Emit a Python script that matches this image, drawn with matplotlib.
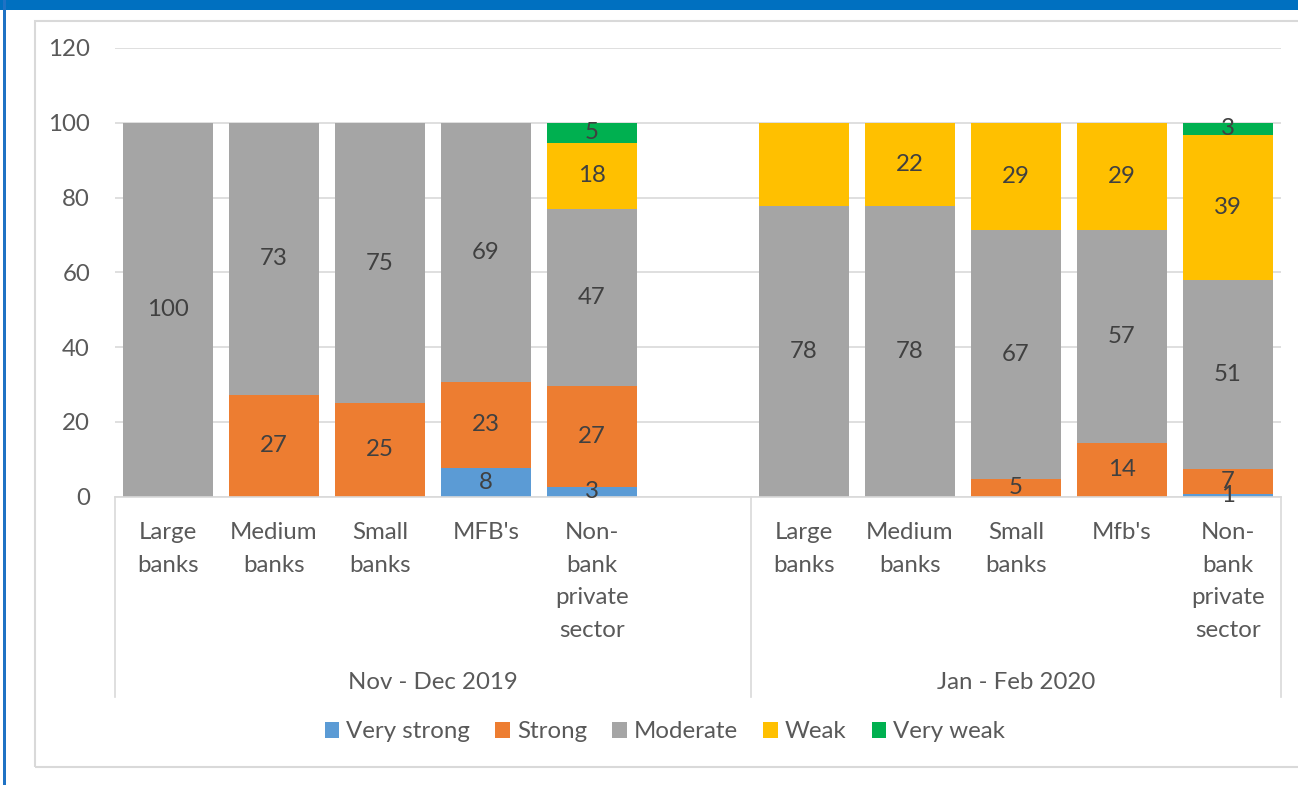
import numpy as np
import matplotlib.pyplot as plt
from matplotlib.patches import Rectangle, Patch
from matplotlib.lines import Line2D

plt.rcParams["font.family"] = ["Lato", "DejaVu Sans"]

# Categorias (slot vazio separa os dois periodos)
categorias = ["Large\nbanks", "Medium\nbanks", "Small\nbanks", "MFB's", "Non-\nbank\nprivate\nsector", "",
              "Large\nbanks", "Medium\nbanks", "Small\nbanks", "Mfb's", "Non-\nbank\nprivate\nsector"]
periodos = ["Nov - Dec 2019", "Jan - Feb 2020"]

very_strong = [0, 0, 0, 7.7, 2.6, 0, 0, 0, 0, 0, 0.7]
strong = [0, 27.3, 25.0, 23.1, 26.9, 0, 0, 0, 4.8, 14.3, 6.6]
moderate = [100, 72.7, 75.0, 69.2, 47.4, 0, 77.8, 77.8, 66.6, 57.1, 50.7]
weak = [0, 0, 0, 0, 17.8, 0, 22.2, 22.2, 28.6, 28.6, 38.7]
very_weak = [0, 0, 0, 0, 5.3, 0, 0, 0, 0, 0, 3.3]

series = ["Very strong", "Strong", "Moderate", "Weak", "Very weak"]
cores = ["#5B9BD5", "#ED7D31", "#A5A5A5", "#FFC000", "#00B050"]
valores = [very_strong, strong, moderate, weak, very_weak]

# rotulo que nao aparece no original (Weak - Large banks Jan-Feb)
sem_rotulo = [("Weak", 6)]

texto = "#595959"
fs = 17.3

fig = plt.figure(figsize=(12.98, 7.85), dpi=100)
W, H = 1298, 785

# moldura azul e borda da area do grafico
fig.patches.append(Rectangle((0, 1 - 10 / H), 1, 10 / H, transform=fig.transFigure,
                             facecolor="#0070C0", edgecolor="none"))
fig.patches.append(Rectangle((3 / W, 0), 3 / W, 1, transform=fig.transFigure,
                             facecolor="#1F72C4", edgecolor="none"))
fig.patches.append(Rectangle((35 / W, 1 - 767 / H), 1.2, (767 - 21) / H, transform=fig.transFigure,
                             facecolor="none", edgecolor="#D9D9D9", linewidth=1.5))

ax = fig.add_axes([115 / W, 1 - 496.7 / H, (1281 - 115) / W, (496.7 - 48) / H])

x = np.arange(len(categorias))
base = np.zeros(len(categorias))
for nome, cor, vals in zip(series, cores, valores):
    vals = np.array(vals, dtype=float)
    ax.bar(x, vals, bottom=base, width=0.84, color=cor, edgecolor="none", zorder=2)
    for i, v in enumerate(vals):
        if v > 0 and (nome, i) not in sem_rotulo:
            ax.text(x[i], base[i] + v / 2, f"{v:.0f}", ha="center", va="center",
                    fontsize=fs, color="#404040", zorder=3)
    base += vals

ax.set_xlim(-0.5, len(categorias) - 0.5)
ax.set_ylim(0, 120)
ax.set_yticks(np.arange(0, 121, 20))
ax.tick_params(axis="y", length=0, pad=18, labelsize=fs, labelcolor=texto)
ax.set_xticks([])
ax.grid(axis="y", color="#D9D9D9", linewidth=1.2, zorder=0)
ax.set_axisbelow(True)
for s in ["top", "right", "left"]:
    ax.spines[s].set_visible(False)
ax.spines["bottom"].set_color("#D9D9D9")
ax.spines["bottom"].set_linewidth(1.2)

# rotulos das categorias (dois niveis)
trans = ax.get_xaxis_transform()
for xi, cat in zip(x, categorias):
    ax.text(xi, -0.0564, cat, transform=trans, ha="center", va="top",
            fontsize=fs, color=texto, linespacing=1.68)
ax.text(2.5, -0.4286, periodos[0], transform=trans, ha="center", va="baseline", fontsize=fs, color=texto)
ax.text(8.0, -0.4286, periodos[1], transform=trans, ha="center", va="baseline", fontsize=fs, color=texto)
for xs in [-0.5, 5.5, 10.5]:
    ax.add_line(Line2D([xs, xs], [0, -0.446], transform=trans, color="#D9D9D9",
                       linewidth=1.2, clip_on=False))

# legenda
handles = [Patch(facecolor=c, edgecolor="none", label=n) for n, c in zip(series, cores)]
fig.legend(handles=handles, loc="center", bbox_to_anchor=(665 / W, 1 - 732 / H), ncol=5,
           frameon=False, fontsize=fs, labelcolor=texto, handlelength=0.6, handleheight=0.6,
           handletextpad=0.3, columnspacing=1.05)

plt.savefig("out.png", dpi=100)
